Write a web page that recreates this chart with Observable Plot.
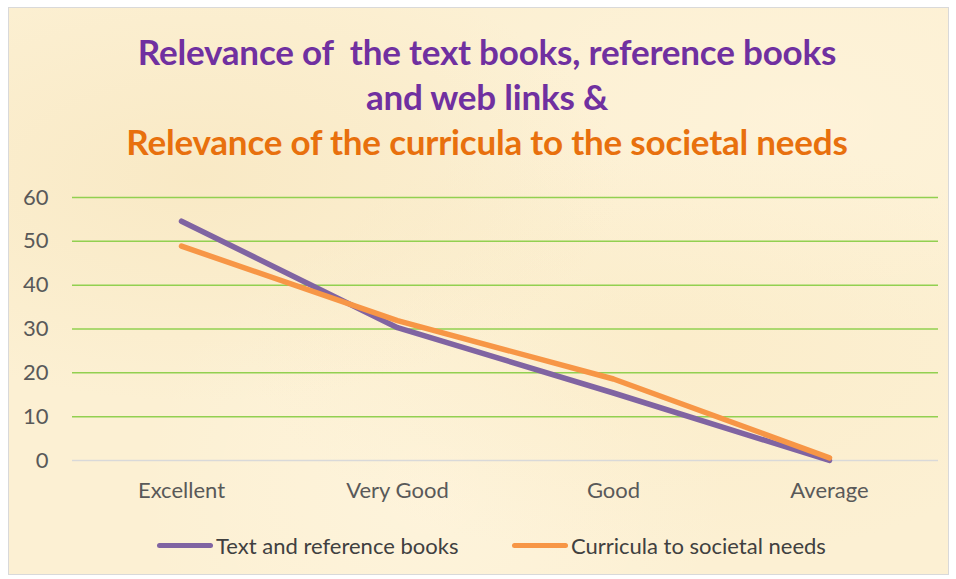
<!DOCTYPE html>
<html>
<head>
<meta charset="utf-8">
<script src="https://cdn.jsdelivr.net/npm/d3@7"></script>
<script src="https://cdn.jsdelivr.net/npm/@observablehq/plot@0.6"></script>
<style>
  html, body { margin: 0; padding: 0; background: #ffffff; }
  #page { position: relative; width: 956px; height: 579px; overflow: hidden; font-family: Lato, "Open Sans", sans-serif; }
  #frame {
    position: absolute; left: 8px; top: 7px; width: 939px; height: 566px;
    border: 1px solid #d9d9d9;
    background-color: #fcf0d3;
    background-image:
      radial-gradient(ellipse at 20% 30%, rgba(245,225,180,0.45), rgba(255,255,255,0) 40%),
      radial-gradient(ellipse at 70% 60%, rgba(250,232,190,0.4), rgba(255,255,255,0) 45%),
      radial-gradient(ellipse at 45% 85%, rgba(255,246,225,0.6), rgba(255,255,255,0) 40%),
      radial-gradient(ellipse at 85% 20%, rgba(255,244,220,0.6), rgba(255,255,255,0) 35%);
  }
  #title { position: absolute; left: 0; top: 29px; width: 974px; text-align: center; font-weight: 700; font-size: 35px; line-height: 45px; letter-spacing: -0.2px; }
  .t1 { color: #7030a0; }
  .t2 { color: #e8700d; }
  #chart { position: absolute; left: 0; top: 180px; }
  #legend { position: absolute; top: 532px; left: 0; width: 956px; height: 26px; font-size: 22px; color: #404040; }
  .item { position: absolute; top: 0; display: flex; align-items: center; height: 26px; }
  .sw { width: 56px; height: 5px; border-radius: 3px; margin-right: 3px; }
</style>
</head>
<body>
<div id="page">
  <div id="frame"></div>
  <div id="title">
    <div class="t1">Relevance of&nbsp; the text books, reference books</div>
    <div class="t1">and web links &amp;</div>
    <div class="t2">Relevance of the curricula to the societal needs</div>
  </div>
  <div id="chart"></div>
  <div id="legend"></div>
</div>
<script>
const categories = ["Excellent", "Very Good", "Good", "Average"];
const seriesNames = ["Text and reference books", "Curricula to societal needs"];
const textBooks = [54.6, 30.3, 15.4, 0];
const curricula = [48.9, 31.9, 18.6, 0.6];
const yTicks = [0, 10, 20, 30, 40, 50, 60];
const seriesColors = ["#8064a2", "#f79646"];

const rows = [];
categories.forEach((c, i) => {
  rows.push({ cat: c, value: textBooks[i], series: seriesNames[0] });
});
categories.forEach((c, i) => {
  rows.push({ cat: c, value: curricula[i], series: seriesNames[1] });
});

const chart = Plot.plot({
  width: 956,
  height: 330,
  marginLeft: 72,
  marginRight: 18,
  marginTop: 17,
  marginBottom: 50,
  style: { background: "transparent", fontFamily: "Lato, 'Open Sans', sans-serif", fontSize: "22px", color: "#595959" },
  x: { type: "point", domain: categories, padding: 0.5 },
  y: { domain: [0, 60] },
  color: { domain: seriesNames, range: seriesColors },
  marks: [
    Plot.ruleY(yTicks.filter(d => d > 0), { stroke: "#92d050", strokeWidth: 1.5 }),
    Plot.ruleY([0], { stroke: "#d9d9d9", strokeWidth: 1.5 }),
    Plot.axisY({ ticks: yTicks, tickSize: 0, tickPadding: 24, label: null, fill: "#595959" }),
    Plot.axisX({ tickSize: 0, tickPadding: 22, label: null, fill: "#595959" }),
    Plot.line(rows, { x: "cat", y: "value", z: "series", stroke: "series", strokeWidth: 5.5, strokeLinecap: "round", strokeLinejoin: "round" })
  ]
});
document.getElementById("chart").appendChild(chart);

const legend = document.getElementById("legend");
const lefts = [157, 512];
seriesNames.forEach((name, i) => {
  const item = document.createElement("div");
  item.className = "item";
  item.style.left = lefts[i] + "px";
  const sw = document.createElement("div");
  sw.className = "sw";
  sw.style.background = seriesColors[i];
  const label = document.createElement("span");
  label.textContent = name;
  item.appendChild(sw);
  item.appendChild(label);
  legend.appendChild(item);
});
</script>
</body>
</html>
